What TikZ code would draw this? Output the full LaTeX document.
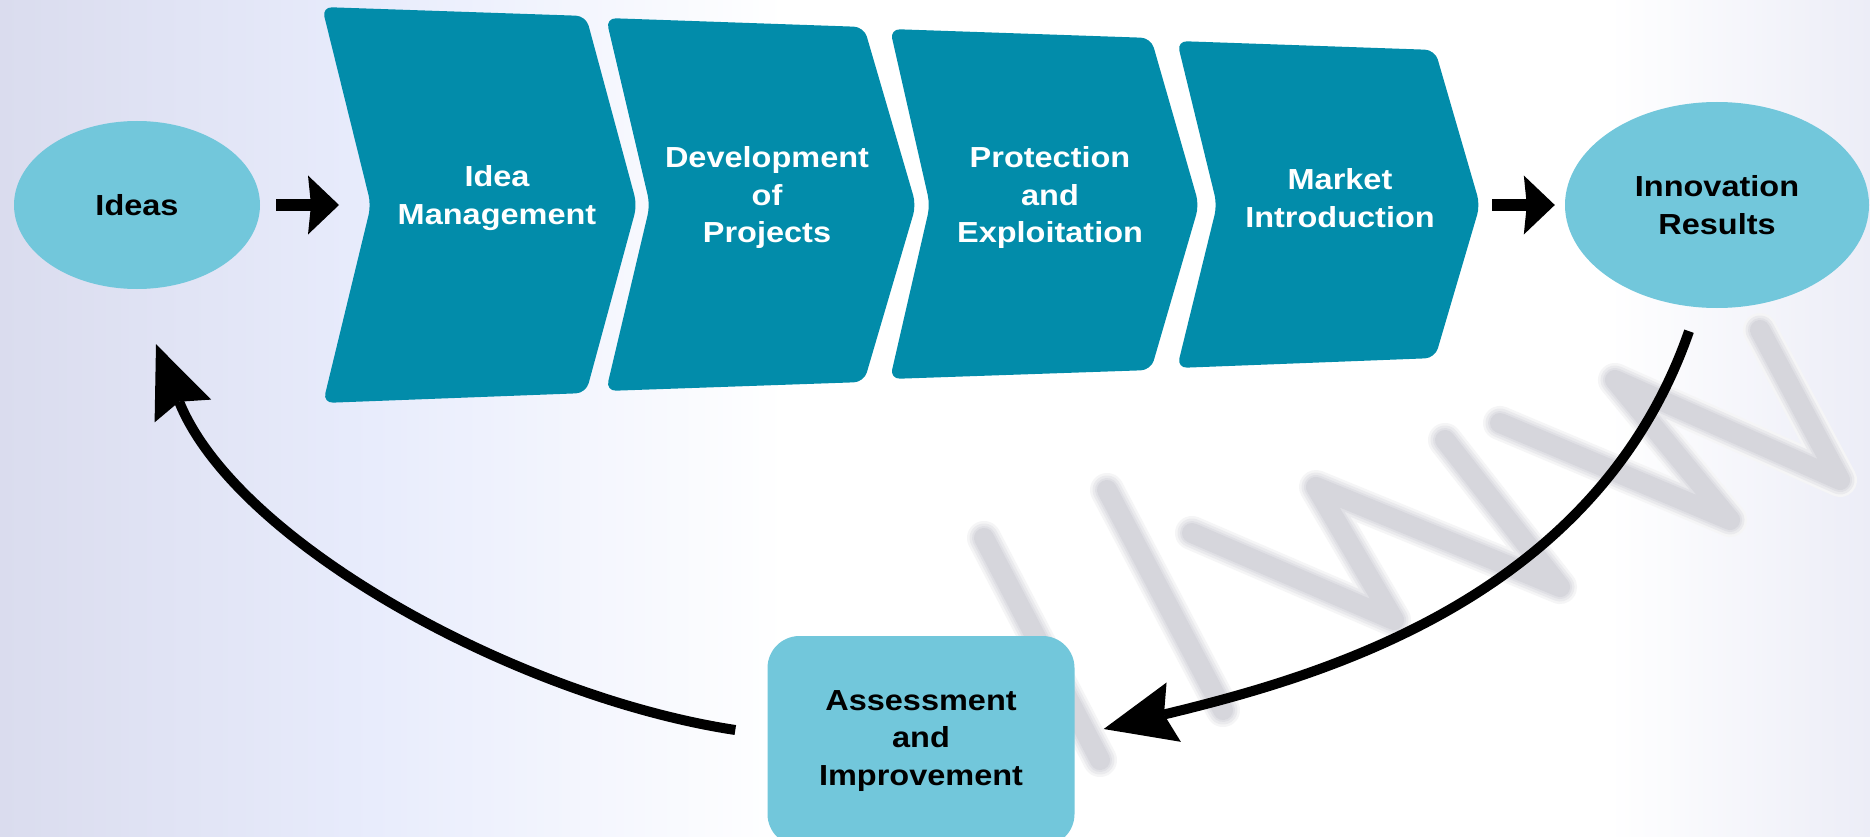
\documentclass[tikz,border=0pt]{standalone}
\usepackage{fontspec}
\setmainfont{Liberation Sans}[FakeStretch=1.12]
\usetikzlibrary{arrows.meta,shapes.geometric}

\definecolor{stagecol}{RGB}{2,140,170}
\definecolor{bubblecol}{RGB}{114,199,219}
\definecolor{bgleft}{RGB}{218,220,238}
\definecolor{bgmid}{RGB}{232,236,252}
\definecolor{bgright}{RGB}{236,237,247}
\definecolor{wmgrey}{RGB}{214,214,220}
\pgfdeclarehorizontalshading{backdrop}{100bp}{color(0bp)=(bgleft); color(25bp)=(bgleft); color(35bp)=(bgmid); color(46bp)=(white); color(68bp)=(white); color(75bp)=(bgright); color(100bp)=(bgright)}

\begin{document}
\begin{tikzpicture}[x=1pt,y=-1pt,>={Stealth[length=31pt,width=59pt,inset=3pt,line width=0pt]},
  every node/.style={font=\fontsize{29}{37.5}\selectfont\bfseries,align=center},
  bubble/.style={ellipse,fill=bubblecol,inner sep=0pt},
  stage/.style={fill=stagecol,rounded corners=10pt},
  stagetext/.style={text=white},
  step arrow/.style={draw,line width=12pt,->},
  loop arrow/.style={line width=10pt,-{Stealth[length=72pt,width=61pt,inset=10pt,line width=0pt]}},
  watermark/.style={line join=round,line cap=round}]

\useasboundingbox (0,0) rectangle (1870,837);
\shade[shading=backdrop] (0,0) rectangle (1870,837);

% faint backdrop lettering, soft edges
\foreach \w/\t in {34/25,29/50,24/75,20/100}{
  \begin{scope}[watermark,draw=wmgrey!\t!white,line width=\w pt]
  \draw (984,538) -- (1100,760);
  \draw (1107,490) -- (1223,710);
  \draw (1192,533) -- (1394,620) -- (1316,487) -- (1560,587) -- (1445,440);
  \draw (1500,423) -- (1730,520) -- (1615,380) -- (1840,480) -- (1760,330);
  \end{scope}
}

% process stages
\fill[stage] (322,7) -- (586,16) -- (637,205) -- (586,393) -- (323,403) -- (371,205) -- cycle;
\fill[stage] (606,18) -- (864,27) -- (916,205) -- (864,382) -- (606,391) -- (650,205) -- cycle;
\fill[stage] (890,29) -- (1151,38) -- (1199,205) -- (1151,370) -- (890,379) -- (930,205) -- cycle;
\fill[stage] (1177,41) -- (1435,50) -- (1480,205) -- (1435,358) -- (1177,368) -- (1217,205) -- cycle;
\coordinate (n1) at (371,205);
\coordinate (t4) at (1480,205);

\node[stagetext] (c1) at (497,198) {Idea\\Management};
\node[stagetext] (c2) at (767,198) {Development\\of\\Projects};
\node[stagetext] (c3) at (1050,198) {Protection\\and\\Exploitation};
\node[stagetext] (c4) at (1340,198) {Market\\Introduction};

\node[bubble,minimum width=246pt,minimum height=168pt] (ideas) at (137,205) {Ideas};
\node[bubble,minimum width=304pt,minimum height=206pt] (results) at (1717,205) {Innovation\\Results};
\node[fill=bubblecol,rounded corners=32pt,minimum width=307pt,minimum height=210pt] (assess) at (921,741) {Assessment\\and\\Improvement};

\path (ideas) edge[step arrow,shorten <=16pt,shorten >=32pt] (n1)
      (t4) edge[step arrow,shorten <=12pt,shorten >=10pt] (results);

\draw[loop arrow] ([shift={(-28,23)}]results.south) .. controls (1597,596) and (1328,675) .. ([shift={(29,-12)}]assess.east);
\draw[loop arrow] ([shift={(-32,-11)}]assess.west) .. controls (518,697) and (236,543) .. ([shift={(19,55)}]ideas.south);

\end{tikzpicture}
\end{document}
